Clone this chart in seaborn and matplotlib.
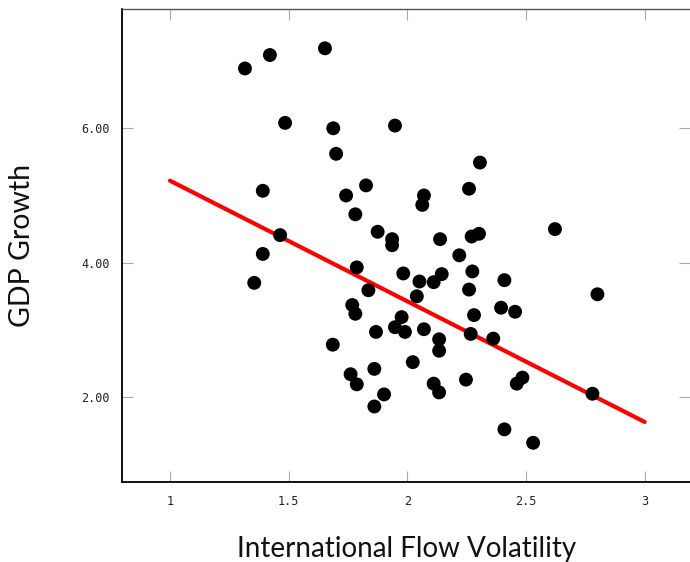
import numpy as np
import pandas as pd
import seaborn as sns
import matplotlib
matplotlib.use("Agg")
import matplotlib.pyplot as plt

volatility = [1.316, 1.421, 1.653, 1.485, 1.688, 1.948, 1.700, 1.391, 1.742, 1.826,
              1.781, 1.464, 1.875, 1.936, 1.936, 2.306, 2.260, 2.070, 2.063, 2.138,
              2.271, 2.302, 2.622, 1.391, 1.355, 1.787, 1.983, 2.051, 1.836, 2.040,
              1.768, 1.781, 1.976, 1.948, 1.990, 1.868, 1.686, 2.023, 1.861, 1.761,
              1.787, 1.902, 1.861, 2.219, 2.111, 2.145, 2.274, 2.260, 2.409, 2.801,
              2.395, 2.454, 2.281, 2.070, 2.267, 2.362, 2.134, 2.134, 2.111, 2.134,
              2.247, 2.461, 2.485, 2.780, 2.409, 2.530]
gdp_growth = [6.89, 7.09, 7.19, 6.08, 6.00, 6.04, 5.62, 5.07, 5.00, 5.15,
              4.72, 4.41, 4.46, 4.35, 4.26, 5.49, 5.10, 5.00, 4.86, 4.35,
              4.39, 4.43, 4.50, 4.13, 3.70, 3.93, 3.84, 3.72, 3.59, 3.50,
              3.37, 3.24, 3.19, 3.04, 2.97, 2.97, 2.78, 2.52, 2.42, 2.34,
              2.19, 2.04, 1.86, 4.11, 3.71, 3.83, 3.87, 3.60, 3.74, 3.53,
              3.33, 3.27, 3.22, 3.01, 2.94, 2.87, 2.86, 2.69, 2.20, 2.07,
              2.26, 2.20, 2.29, 2.05, 1.52, 1.32]

x_ticks = [1, 1.5, 2, 2.5, 3]
x_tick_labels = ["1", "1.5", "2", "2.5", "3"]
y_ticks = [2, 4, 6]
y_tick_labels = ["2.00", "4.00", "6.00"]

# trend line as drawn in the reference
trend_x = [1, 3]
trend_y = [5.22, 1.63]

df = pd.DataFrame({"vol": volatility, "gdp": gdp_growth})
trend_df = pd.DataFrame({"vol": trend_x, "gdp": trend_y})

sns.set_style("white")
fig = plt.figure(figsize=(6.9, 5.62), dpi=100)
ax = fig.add_axes([0.1772, 0.1418, 0.8228, 0.8422])

sns.scatterplot(data=df, x="vol", y="gdp", ax=ax, color="black", s=100,
                edgecolor="none", zorder=3)
sns.lineplot(data=trend_df, x="vol", y="gdp", ax=ax, color="#ff0000",
             linewidth=3.0, zorder=2)

ax.set_xlim(0.799, 3.191)
ax.set_ylim(0.732, 7.775)
ax.set_xticks(x_ticks)
ax.set_xticklabels(x_tick_labels, family="DejaVu Sans Mono", fontsize=8.5)
ax.set_yticks(y_ticks)
ax.set_yticklabels(y_tick_labels, family="DejaVu Sans Mono", fontsize=8.5)
ax.tick_params(axis="both", which="both", direction="in", length=8,
               width=0.8, color="#aaaaaa", pad=9,
               top=True, right=True, bottom=True, left=True,
               labelcolor="#222222")

for side in ["left", "bottom"]:
    ax.spines[side].set_color("black")
    ax.spines[side].set_linewidth(1.3)
ax.spines["top"].set_color("#555555")
ax.spines["top"].set_linewidth(1.0)
ax.spines["right"].set_visible(False)

ax.set_xlabel("International Flow Volatility", family="Lato", fontsize=20,
              va="center", color="#111111")
ax.set_ylabel("GDP Growth", family="Lato", fontsize=20.5,
              va="center", color="#111111")
ax.xaxis.set_label_coords(0.5, -0.141)
ax.yaxis.set_label_coords(-0.1767, 0.5)

fig.savefig("out.png", dpi=100)
